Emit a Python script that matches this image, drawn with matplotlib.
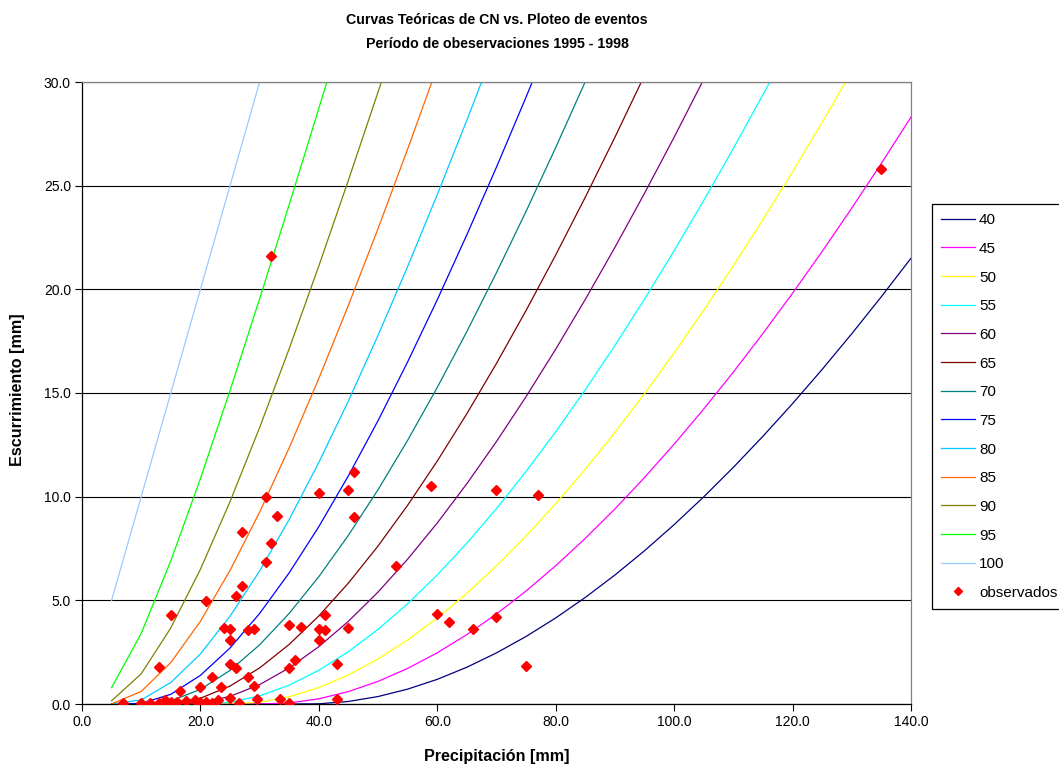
import matplotlib
matplotlib.use("Agg")
import matplotlib.pyplot as plt
from matplotlib.ticker import FormatStrFormatter, MultipleLocator

plt.rcParams['font.family'] = ['Liberation Sans', 'DejaVu Sans']

# Precipitation steps (mm) shared by all theoretical curves
precip = [5, 10, 15, 20, 25, 30, 35, 40, 45, 50, 55, 60, 65, 70, 75, 80, 85,
          90, 95, 100, 105, 110, 115, 120, 125, 130, 135, 140]

# Runoff (mm) for each curve number, one value per precipitation step
q_cn40 = [0, 0, 0, 0, 0, 0, 0, 0.009, 0.123, 0.360, 0.718, 1.190, 1.774, 2.465,
          3.258, 4.151, 5.140, 6.222, 7.393, 8.651, 9.992, 11.414, 12.915,
          14.490, 16.139, 17.859, 19.648, 21.502]
q_cn45 = [0, 0, 0, 0, 0, 0, 0.050, 0.251, 0.600, 1.091, 1.716, 2.470, 3.348,
          4.343, 5.452, 6.669, 7.989, 9.409, 10.925, 12.533, 14.229, 16.009,
          17.872, 19.813, 21.829, 23.919, 26.078, 28.306]
q_cn50 = [0, 0, 0, 0, 0, 0.082, 0.350, 0.794, 1.404, 2.172, 3.089, 4.148, 5.341,
          6.662, 8.103, 9.660, 11.327, 13.098, 14.970, 16.936, 18.993, 21.137,
          23.365, 25.672, 28.055, 30.511, 33.037]
q_cn55 = [0, 0, 0, 0, 0.084, 0.392, 0.910, 1.627, 2.528, 3.601, 4.837, 6.226,
          7.758, 9.424, 11.218, 13.132, 15.159, 17.294, 19.530, 21.863, 24.287,
          26.797, 29.390, 32.062]
q_cn60 = [0, 0, 0, 0.055, 0.367, 0.936, 1.742, 2.766, 3.991, 5.402, 6.987, 8.732,
          10.628, 12.662, 14.828, 17.115, 19.516, 22.025, 24.634, 27.338, 30.131,
          33.009]
q_cn65 = [0, 0, 0.013, 0.279, 0.866, 1.740, 2.876, 4.249, 5.837, 7.622, 9.588,
          11.720, 14.004, 16.429, 18.984, 21.659, 24.446, 27.337, 30.324, 33.402]
q_cn70 = [0, 0, 0.150, 0.704, 1.620, 2.855, 4.373, 6.143, 8.140, 10.339, 12.722,
          15.270, 17.968, 20.804, 23.765, 26.840, 30.021, 33.298]
q_cn75 = [0, 0.027, 0.468, 1.383, 2.701, 4.366, 6.331, 8.557, 11.012, 13.669,
          16.504, 19.498, 22.635, 25.896, 29.277, 32.759]
q_cn80 = [0, 0.198, 1.037, 2.415, 4.234, 6.418, 8.907, 11.655, 14.624, 17.782,
          21.104, 24.570, 28.161, 31.862]
q_cn85 = [0.006, 0.605, 1.999, 3.991, 6.443, 9.257, 12.362, 15.702, 19.237,
          22.934, 26.768, 30.719]
q_cn90 = [0.156, 1.455, 3.671, 6.500, 9.759, 13.333, 17.143, 21.134, 25.270,
          29.520, 33.863]
q_cn95 = [0.788, 3.406, 6.906, 10.873, 15.120, 19.546, 24.094, 28.728, 33.428]
q_cn100 = [5, 10, 15, 20, 25, 30, 35]

curve_labels = ['40', '45', '50', '55', '60', '65', '70', '75', '80', '85',
                '90', '95', '100']
curve_values = [q_cn40, q_cn45, q_cn50, q_cn55, q_cn60, q_cn65, q_cn70, q_cn75,
                q_cn80, q_cn85, q_cn90, q_cn95, q_cn100]
curve_colors = ['#000080', '#FF00FF', '#FFFF00', '#00FFFF', '#800080', '#800000',
                '#008080', '#0000FF', '#00CCFF', '#FF6600', '#808000', '#00FF00',
                '#99CCFF']

# Observed events: precipitation (mm) and runoff (mm)
obs_precip = [135, 32, 46, 40, 45, 59, 70, 77, 31, 33, 46, 27, 32, 31, 53, 27,
              26, 21, 15, 24, 25, 28, 29, 25, 60, 62, 35, 37, 41, 40, 41, 45,
              40, 36, 35, 43, 66, 70, 75, 13, 25, 26, 22, 28, 16.5, 20, 23.5,
              29, 33.5, 35, 43, 7, 10, 11.5, 13, 14, 14, 15, 16, 17.5, 19, 20,
              21, 22, 23, 25, 26.5, 29.5]
obs_runoff = [25.8, 21.6, 11.2, 10.2, 10.3, 10.5, 10.3, 10.1, 10.0, 9.05, 9.0,
              8.3, 7.75, 6.85, 6.65, 5.7, 5.2, 4.95, 4.3, 3.65, 3.6, 3.55, 3.6,
              3.1, 4.35, 3.95, 3.8, 3.7, 4.3, 3.6, 3.55, 3.65, 3.1, 2.1, 1.75,
              1.95, 3.6, 4.2, 1.85, 1.8, 1.95, 1.75, 1.3, 1.3, 0.65, 0.8, 0.8,
              0.85, 0.25, 0.05, 0.25, 0.05, 0.05, 0.05, 0.05, 0.2, 0.05, 0.1,
              0.1, 0.15, 0.2, 0.1, 0.1, 0.05, 0.2, 0.3, 0.05, 0.25]

W, H = 1059, 765
fig = plt.figure(figsize=(W / 100, H / 100), dpi=100)
ax = fig.add_axes([82 / W, 1 - 704 / H, (911 - 82) / W, (704 - 82) / H])

for lab, q, col in zip(curve_labels, curve_values, curve_colors):
    ax.plot(precip[:len(q)], q, color=col, lw=0.9, label=lab, zorder=2)

ax.plot(obs_precip, obs_runoff, linestyle='none', marker='D', markersize=4.6,
        color='#FF0000', markeredgecolor='#FF0000', label='observados', zorder=3)

ax.set_xlim(0, 140)
ax.set_ylim(0, 30)
ax.xaxis.set_major_locator(MultipleLocator(20))
ax.yaxis.set_major_locator(MultipleLocator(5))
ax.xaxis.set_major_formatter(FormatStrFormatter('%.1f'))
ax.yaxis.set_major_formatter(FormatStrFormatter('%.1f'))
ax.tick_params(axis='both', direction='out', length=5, width=0.8, labelsize=10,
               colors='black', pad=3)
ax.grid(axis='y', color='black', lw=0.8, zorder=1)
ax.set_axisbelow(True)

for side in ('left', 'bottom'):
    ax.spines[side].set_color('black')
    ax.spines[side].set_linewidth(0.9)
for side in ('top', 'right'):
    ax.spines[side].set_color('#808080')
    ax.spines[side].set_linewidth(0.9)

# Axis titles
fig.text(497 / W, 1 - 757 / H, 'Precipitación [mm]', ha='center', va='center',
         fontsize=11.6, fontweight='bold')
fig.text(18 / W, 1 - 390 / H, 'Escurrimiento [mm]', ha='center', va='center',
         rotation=90, fontsize=11.6, fontweight='bold')

# Chart title (two lines)
fig.text(497 / W, 1 - 20 / H, 'Curvas Teóricas de CN vs. Ploteo de eventos',
         ha='center', va='center', fontsize=10.2, fontweight='bold')
fig.text(497 / W, 1 - 44 / H, 'Período de obeservaciones 1995 - 1998',
         ha='center', va='center', fontsize=10.2, fontweight='bold')

leg = ax.legend(loc='upper left', bbox_to_anchor=(932 / W, 1 - 204 / H),
                bbox_transform=fig.transFigure, fontsize=11, frameon=True,
                fancybox=False, edgecolor='black', framealpha=1,
                handlelength=2.2, handletextpad=0.28, labelspacing=0.96,
                borderpad=0.6, borderaxespad=0, markerscale=0.8)
leg.get_frame().set_linewidth(0.9)

fig.savefig('out.png', dpi=100)
